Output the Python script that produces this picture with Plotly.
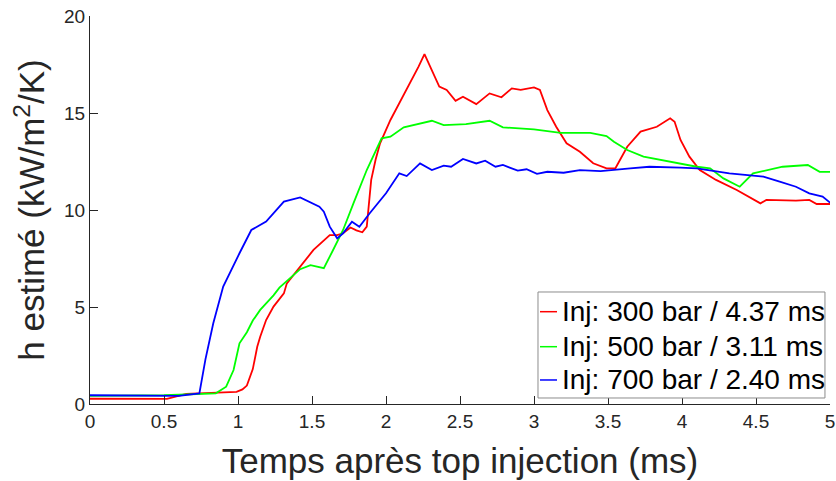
import plotly.graph_objects as go

# Temps (ms) et h estimé (kW/m2/K)
x_300 = [0, 0.25, 0.52, 0.65, 0.8, 0.99, 1.03, 1.06, 1.10, 1.13, 1.15, 1.19, 1.24, 1.31, 1.33, 1.42,
         1.51, 1.62, 1.67, 1.71, 1.76, 1.80, 1.84, 1.87, 1.89, 1.90, 1.93, 1.96, 2.03, 2.09, 2.16,
         2.22, 2.26, 2.30, 2.36, 2.41, 2.47, 2.52, 2.61, 2.70, 2.78, 2.85, 2.91, 3.0, 3.04, 3.09,
         3.15, 3.22, 3.31, 3.40, 3.49, 3.55, 3.63, 3.72, 3.83, 3.92, 3.95, 3.99, 4.05, 4.12, 4.23,
         4.37, 4.53, 4.57, 4.77, 4.86, 4.91, 5.0]
h_300 = [0.27, 0.25, 0.26, 0.52, 0.56, 0.63, 0.75, 0.95, 1.8, 2.95, 3.47, 4.33, 5.02, 5.7, 6.22, 7.05,
         7.94, 8.71, 8.71, 8.8, 9.1, 8.95, 8.85, 9.14, 10.69, 11.55, 12.6, 13.44, 14.64, 15.5, 16.53,
         17.39, 18.04, 17.39, 16.36, 16.19, 15.63, 15.84, 15.46, 16.01, 15.81, 16.27, 16.19, 16.32, 16.19, 15.15,
         14.29, 13.44, 13.0, 12.41, 12.15, 12.15, 13.26, 14.04, 14.29, 14.73, 14.55, 13.61, 12.75, 12.06, 11.55,
         11.03, 10.34, 10.52, 10.48, 10.52, 10.31, 10.31]

x_500 = [0, 0.5, 0.85, 0.92, 0.97, 1.01, 1.06, 1.10, 1.15, 1.24, 1.28, 1.35, 1.42, 1.49, 1.58, 1.64,
         1.71, 1.78, 1.84, 1.87, 1.97, 2.03, 2.12, 2.23, 2.31, 2.39, 2.54, 2.70, 2.79, 3.0, 3.18,
         3.38, 3.49, 3.54, 3.63, 3.74, 3.92, 4.10, 4.19, 4.28, 4.39, 4.48, 4.68, 4.85, 4.93, 5.0]
h_500 = [0.42, 0.45, 0.55, 0.89, 1.75, 3.13, 3.7, 4.3, 4.85, 5.6, 6.0, 6.5, 6.95, 7.16, 7.0, 7.9,
         8.97, 10.34, 11.55, 12.06, 13.69, 13.78, 14.26, 14.47, 14.6, 14.38, 14.43, 14.6, 14.26, 14.16, 13.98,
         13.98, 13.81, 13.52, 13.09, 12.75, 12.49, 12.23, 12.15, 11.63, 11.2, 11.89, 12.23, 12.32, 11.97, 11.97]

x_700 = [0, 0.3, 0.6, 0.739, 0.78, 0.833, 0.90, 1.01, 1.09, 1.19, 1.31, 1.42, 1.51, 1.55, 1.58, 1.62,
         1.67, 1.71, 1.77, 1.82, 1.89, 2.0, 2.09, 2.14, 2.23, 2.31, 2.39, 2.44, 2.52, 2.61, 2.67,
         2.74, 2.79, 2.89, 2.95, 3.02, 3.09, 3.2, 3.31, 3.45, 3.65, 3.78, 3.99, 4.1, 4.32, 4.46,
         4.55, 4.66, 4.77, 4.86, 4.95, 5.0]
h_700 = [0.45, 0.42, 0.42, 0.55, 2.3, 4.16, 6.05, 7.77, 8.97, 9.4, 10.43, 10.65, 10.34, 10.17, 9.91, 9.14,
         8.54, 8.8, 9.4, 9.14, 9.83, 10.86, 11.89, 11.75, 12.4, 12.06, 12.29, 12.23, 12.63, 12.4, 12.54,
         12.23, 12.32, 12.03, 12.1, 11.86, 11.97, 11.92, 12.06, 12.0, 12.15, 12.23, 12.18, 12.15, 11.89, 11.8,
         11.72, 11.46, 11.2, 10.86, 10.69, 10.38]

noms = ["Inj: 300 bar / 4.37 ms", "Inj: 500 bar / 3.11 ms", "Inj: 700 bar / 2.40 ms"]
couleurs = ["#ff0000", "#00ff00", "#0000ff"]

FONT = "Liberation Sans, Arial, sans-serif"
GRIS = "#262626"

fig = go.Figure()
for i, (xs, ys) in enumerate([(x_300, h_300), (x_500, h_500), (x_700, h_700)]):
    assert len(xs) == len(ys)
    fig.add_trace(go.Scatter(x=xs, y=ys, mode="lines", name=noms[i], showlegend=False,
                             line=dict(color=couleurs[i], width=1.8)))

# légende façon MATLAB (traits courts, lignes serrées), en coordonnées "paper"
fig.add_shape(type="rect", xref="paper", yref="paper", x0=0.6054, x1=0.9932, y0=0.0155, y1=0.2887,
              line=dict(color="#8c8c8c", width=1), fillcolor="white", layer="above")
for i, yy in enumerate([0.2379, 0.1477, 0.0619]):
    fig.add_shape(type="line", xref="paper", yref="paper", x0=0.6081, x1=0.6311, y0=yy, y1=yy,
                  line=dict(color=couleurs[i], width=1.5), layer="above")
    fig.add_annotation(xref="paper", yref="paper", x=0.6351, y=yy, xanchor="left", yanchor="middle",
                       text=noms[i], showarrow=False,
                       font=dict(family=FONT, size=28, color="black"))

axe = dict(showline=True, linecolor=GRIS, linewidth=1, ticks="inside", ticklen=8,
           tickcolor=GRIS, showgrid=False, zeroline=False, automargin=False,
           tickfont=dict(family=FONT, size=19, color=GRIS))

fig.update_layout(
    width=836, height=481,
    margin=dict(l=90, r=6, t=16, b=77),
    plot_bgcolor="white", paper_bgcolor="white",
    xaxis=dict(range=[0, 5], dtick=0.5, tick0=0,
               title=dict(text="Temps après top injection (ms)", standoff=17,
                          font=dict(family=FONT, size=35, color=GRIS)), **axe),
    yaxis=dict(range=[0, 20], dtick=5, tick0=0,
               title=dict(text="h estimé (kW/m<sup>2</sup>/K)", standoff=8,
                          font=dict(family=FONT, size=35, color=GRIS)), **axe),
)

# pas de marge autour du graphique dans la page, pas de barre d'outils
fig.write_html("out.html", config={"displayModeBar": False},
               post_script="document.body.style.margin='0';")
